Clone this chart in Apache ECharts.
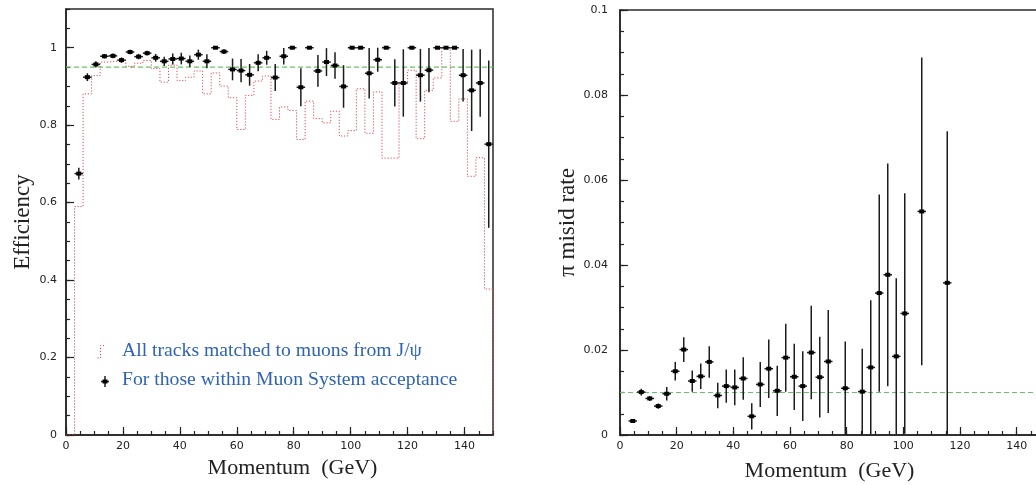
<!DOCTYPE html>
<html><head><meta charset="utf-8">
<script src="https://cdn.jsdelivr.net/npm/echarts@6/dist/echarts.min.js"></script>
<style>html,body{margin:0;padding:0;background:#fff;overflow:hidden}#c{width:1036px;height:485px}</style>
</head><body><div id="c"></div>
<script>
// ---------- data: left panel (muon efficiency) ----------
const histEdges = [0,3,6,9,12,15,18,21,24,27,30,33,36,39,42,45,48,51,54,57,60,63,66,69,72,75,78,81,84,87,90,93,96,99,102,105,108,111,114,117,120,123,126,129,132,135,138,141,144,147,150];
const histValues = [0,0.59,0.881,0.928,0.963,0.965,0.967,0.952,0.960,0.967,0.946,0.911,0.955,0.915,0.924,0.940,0.881,0.935,0.901,0.871,0.789,0.877,0.914,0.927,0.815,0.847,0.838,0.763,0.862,0.817,0.806,0.836,0.772,0.786,0.894,0.779,0.886,0.715,0.715,0.907,0.942,0.765,0.890,0.922,1.0,0.810,0.868,0.668,0.716,0.377];
const effCenters = [4.5,7.5,10.5,13.5,16.5,19.5,22.5,25.5,28.5,31.5,34.5,37.5,40.5,43.5,46.5,49.5,52.5,55.5,58.5,61.5,64.5,67.5,70.5,73.5,76.5,79.5,82.5,85.5,88.5,91.5,94.5,97.5,100.5,103.5,106.5,109.5,112.5,115.5,118.5,121.5,124.5,127.5,130.5,133.5,136.5,139.5,142.5,145.5,148.5];
const effValues = [0.675,0.924,0.957,0.978,0.979,0.968,0.989,0.977,0.986,0.974,0.965,0.971,0.972,0.965,0.982,0.965,1.0,0.990,0.944,0.941,0.930,0.961,0.974,0.923,0.978,1.0,0.898,1.0,0.940,0.963,0.954,0.900,1.0,1.0,0.934,0.969,1.0,0.909,0.909,1.0,0.929,0.942,1.0,1.0,1.0,0.929,0.890,0.909,0.751];
const effErrors = [0.015,0.010,0.008,0.006,0.006,0.007,0.006,0.007,0.006,0.010,0.012,0.014,0.015,0.015,0.013,0.018,0.000,0.006,0.028,0.030,0.028,0.022,0.018,0.035,0.021,0.000,0.049,0.000,0.041,0.036,0.034,0.055,0.000,0.000,0.065,0.031,0.000,0.061,0.087,0.000,0.068,0.057,0.000,0.000,0.000,0.068,0.105,0.087,0.216];
const effReference = [[0,0.95],[150,0.95]];

// ---------- data: right panel (pion misid rate) ----------
const misCenters = [4.5,7.5,10.5,13.5,16.5,19.5,22.5,25.5,28.5,31.5,34.5,37.5,40.5,43.5,46.5,49.5,52.5,55.5,58.5,61.5,64.5,67.5,70.5,73.5,79.5,85.5,88.5,91.5,94.5,97.5,100.5,106.5,115.5];
const misValues = [0.0033,0.0101,0.0086,0.0068,0.0097,0.0150,0.0201,0.0127,0.0138,0.0172,0.0093,0.0115,0.0112,0.0133,0.0044,0.0119,0.0156,0.0104,0.0182,0.0137,0.0115,0.0194,0.0136,0.0173,0.0110,0.0102,0.0159,0.0334,0.0377,0.0185,0.0286,0.0526,0.0358];
const misErrors = [0.0003,0.0008,0.0006,0.0006,0.0016,0.0022,0.0029,0.0025,0.0030,0.0037,0.0030,0.0039,0.0042,0.0050,0.0031,0.0053,0.0069,0.0059,0.0080,0.0078,0.0082,0.0110,0.0095,0.0121,0.0110,0.0101,0.0158,0.0232,0.0262,0.0184,0.0283,0.0362,0.0357];
const misReference = [[0,0.01],[150,0.01]];

const binHalfWidth = 1.5;
const xLabel = 'Momentum  (GeV)';

// ---------- build ----------
const histData = histValues.map((v, i) => [histEdges[i], v]);
histData.push([histEdges[histEdges.length - 1], 0]);
const effData = effCenters.map((x, i) => [x, effValues[i], effErrors[i]]);
const misData = misCenters.map((x, i) => [x, misValues[i], misErrors[i]]);

const INK = '#1c1c1c';
function errRender(params, api) {
  const x = api.value(0), y = api.value(1), e = api.value(2);
  const c = api.coord([x, y]);
  const t = api.coord([x, y + e]);
  const b = api.coord([x, y - e]);
  const l = api.coord([x - binHalfWidth, y]);
  const r = api.coord([x + binHalfWidth, y]);
  return {
    type: 'group',
    children: [
      { type: 'line', shape: { x1: t[0], y1: t[1], x2: b[0], y2: b[1] }, style: { stroke: INK, lineWidth: 1.5 } },
      { type: 'line', shape: { x1: l[0], y1: l[1], x2: r[0], y2: r[1] }, style: { stroke: INK, lineWidth: 1.5 } },
      { type: 'rect', shape: { x: c[0] - 2.5, y: c[1] - 2, width: 5, height: 4 }, style: { fill: '#000' } }
    ]
  };
}

const tickFont = { color: '#222', fontFamily: 'DejaVu Sans', fontSize: 11 };
const serif = 'Liberation Serif';

function majorX(gi, pad, gap) {
  return {
    type: 'value', gridIndex: gi, position: 'bottom', min: 0, max: 150, interval: 20,
    axisLine: { show: true, onZero: false, lineStyle: { color: '#222', width: 1.5 } },
    axisTick: { show: true, inside: true, length: 8, lineStyle: { color: '#222', width: 1.2 } },
    axisLabel: Object.assign({ show: true, showMaxLabel: false, margin: 6 }, tickFont),
    splitLine: { show: false },
    name: xLabel, nameLocation: 'middle', nameGap: gap,
    nameTextStyle: { fontFamily: serif, fontSize: 22, color: '#222', padding: pad }
  };
}
function minorX(gi) {
  return {
    type: 'value', gridIndex: gi, position: 'bottom', min: 0, max: 150, interval: 5,
    axisLine: { show: false, onZero: false }, axisLabel: { show: false }, splitLine: { show: false },
    axisTick: { show: true, inside: true, length: 4, lineStyle: { color: '#222', width: 1.2 } }
  };
}
function majorY(gi, max, interval, showMax, name, gap, margin) {
  return {
    type: 'value', gridIndex: gi, position: 'left', min: 0, max: max, interval: interval,
    axisLine: { show: true, onZero: false, lineStyle: { color: '#222', width: 1.5 } },
    axisTick: { show: true, inside: true, length: 8, lineStyle: { color: '#222', width: 1.2 } },
    axisLabel: Object.assign({ show: true, showMaxLabel: showMax, margin: margin }, tickFont),
    splitLine: { show: false },
    name: name, nameLocation: 'middle', nameGap: gap, nameRotate: 90,
    nameTextStyle: { fontFamily: serif, fontSize: 23, color: '#222' }
  };
}
function minorY(gi, max, interval) {
  return {
    type: 'value', gridIndex: gi, position: 'left', min: 0, max: max, interval: interval,
    axisLine: { show: false, onZero: false }, axisLabel: { show: false }, splitLine: { show: false },
    axisTick: { show: true, inside: true, length: 4, lineStyle: { color: '#222', width: 1.2 } }
  };
}

const chart = echarts.init(document.getElementById('c'), null, { renderer: 'canvas' });
const legendBlue = '#2f63b4';
chart.setOption({
  animation: false,
  backgroundColor: '#fff',
  grid: [
    { left: 66, top: 9, width: 427, height: 426, outerBoundsMode: 'none', containLabel: false,
      show: true, borderColor: '#2a2a2a', borderWidth: 1.5 },
    { left: 620, top: 10, width: 425, height: 425, outerBoundsMode: 'none', containLabel: false,
      show: true, borderColor: '#2a2a2a', borderWidth: 1.5 }
  ],
  xAxis: [majorX(0, [0, 0, 0, 26], 21), minorX(0), majorX(1, [0, 6, 0, 0], 25), minorX(1)],
  yAxis: [
    majorY(0, 1.1, 0.2, false, 'Efficiency', 32, 9), minorY(0, 1.1, 0.05),
    majorY(1, 0.1, 0.02, true, 'π misid rate', 40, 12), minorY(1, 0.1, 0.005)
  ],
  series: [
    { type: 'line', name: 'All tracks matched to muons from J/ψ', xAxisIndex: 0, yAxisIndex: 0,
      data: histData, step: 'end', symbol: 'none', clip: true,
      lineStyle: { color: '#e34b50', width: 1, type: [1.2, 1.8] }, z: 2 },
    { type: 'line', name: 'eff-ref', xAxisIndex: 0, yAxisIndex: 0, data: effReference, symbol: 'none',
      lineStyle: { color: '#66c266', width: 1.2, type: [5, 3] }, z: 1 },
    { type: 'custom', name: 'For those within Muon System acceptance', xAxisIndex: 0, yAxisIndex: 0,
      data: effData, renderItem: errRender, encode: { x: 0, y: 1 }, clip: true, z: 5 },
    { type: 'line', name: 'mis-ref', xAxisIndex: 2, yAxisIndex: 2, data: misReference, symbol: 'none',
      lineStyle: { color: '#66c266', width: 1.2, type: [5, 3] }, z: 1 },
    { type: 'custom', name: 'pion misid', xAxisIndex: 2, yAxisIndex: 2,
      data: misData, renderItem: errRender, encode: { x: 0, y: 1 }, clip: true, z: 5 }
  ],
  graphic: [
    { type: 'polyline', shape: { points: [[97.5, 358], [100.5, 358], [100.5, 345.5], [104, 345.5]] },
      style: { stroke: '#e34b50', lineWidth: 1, lineDash: [1.2, 1.8], fill: null } },
    { type: 'line', shape: { x1: 101, y1: 381.5, x2: 109, y2: 381.5 }, style: { stroke: INK, lineWidth: 1.5 } },
    { type: 'line', shape: { x1: 105, y1: 376, x2: 105, y2: 387 }, style: { stroke: INK, lineWidth: 1.5 } },
    { type: 'rect', shape: { x: 102.5, y: 379.5, width: 5, height: 4 }, style: { fill: '#000' } },
    { type: 'text', left: 122, top: 341, style: { text: 'All tracks matched to muons from J/ψ', font: '19.7px "Liberation Serif"', fill: legendBlue } },
    { type: 'text', left: 122, top: 370, style: { text: 'For those within Muon System acceptance', font: '19.7px "Liberation Serif"', fill: legendBlue } }
  ]
});
</script></body></html>
